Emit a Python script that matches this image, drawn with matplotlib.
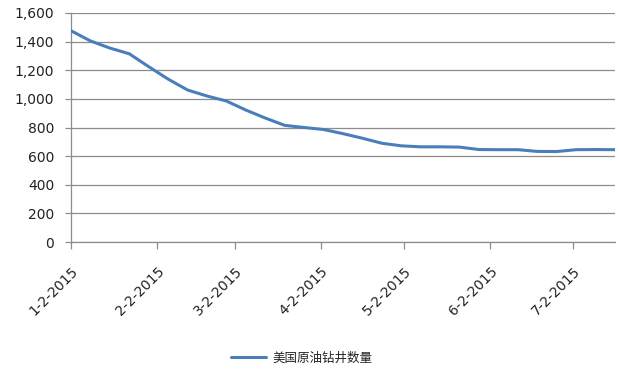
import matplotlib
matplotlib.use('Agg')
import matplotlib.pyplot as plt
import matplotlib.transforms as mtransforms
from matplotlib.ticker import FuncFormatter
import pandas as pd

# Weekly US crude oil rig count
rigs = [1476, 1405, 1355, 1315, 1225, 1138, 1062, 1020, 985, 922,
        866, 815, 800, 786, 757, 725, 690, 672, 665, 665,
        663, 646, 645, 645, 633, 632, 645, 646, 645]
dates = pd.date_range("2015-01-02", periods=len(rigs), freq="7D")
tick_labels = ['1-2-2015', '2-2-2015', '3-2-2015', '4-2-2015',
               '5-2-2015', '6-2-2015', '7-2-2015']
y_ticks = [0, 200, 400, 600, 800, 1000, 1200, 1400, 1600]
series_name = '美国原油钻井数量'

plt.rcParams['font.family'] = ['DejaVu Sans']

W, H = 619, 369
fig = plt.figure(figsize=(W / 100, H / 100), dpi=100)
ax = fig.add_axes([71 / W, 1 - 242 / H, (615 - 71) / W, (242 - 13) / H])

line_color = '#4a7ebb'
grid_color = '#8c8c8c'

ax.plot(dates, rigs, color=line_color, linewidth=2.2, solid_capstyle='round',
        solid_joinstyle='round', label=series_name, zorder=3)

ax.set_ylim(0, 1600)
ax.set_yticks(y_ticks)
ax.yaxis.set_major_formatter(FuncFormatter(lambda v, p: f'{int(v):,}'))
ax.set_xlim(dates[0], dates[-1])
tick_dates = pd.to_datetime(tick_labels, format='%m-%d-%Y')
ax.set_xticks(tick_dates)
ax.set_xticklabels(tick_labels)

ax.grid(axis='y', color=grid_color, linewidth=0.9, zorder=0)
ax.set_axisbelow(True)
for s in ['top', 'right']:
    ax.spines[s].set_visible(False)
for s in ['left', 'bottom']:
    ax.spines[s].set_color(grid_color)
    ax.spines[s].set_linewidth(0.9)

ax.tick_params(axis='y', length=4, width=0.9, color=grid_color, pad=8,
               labelsize=10, labelcolor='#222222')
ax.tick_params(axis='x', length=5, width=0.9, color=grid_color, pad=0,
               labelsize=10, labelcolor='#222222')

offset = mtransforms.ScaledTranslation(0.05, -0.20, fig.dpi_scale_trans)
for lab in ax.get_xticklabels():
    lab.set_rotation(45)
    lab.set_rotation_mode('anchor')
    lab.set_ha('right')
    lab.set_va('center')
    lab.set_transform(lab.get_transform() + offset)

leg = fig.legend(loc='center', bbox_to_anchor=(302 / W, 1 - 358 / H),
                 frameon=False, handlelength=2.8, handletextpad=0.5,
                 prop={'family': ['Noto Sans CJK SC', 'DejaVu Sans'], 'size': 9},
                 borderpad=0)
for t in leg.get_texts():
    t.set_color('#222222')

fig.savefig('out.png', dpi=100, facecolor='white')
